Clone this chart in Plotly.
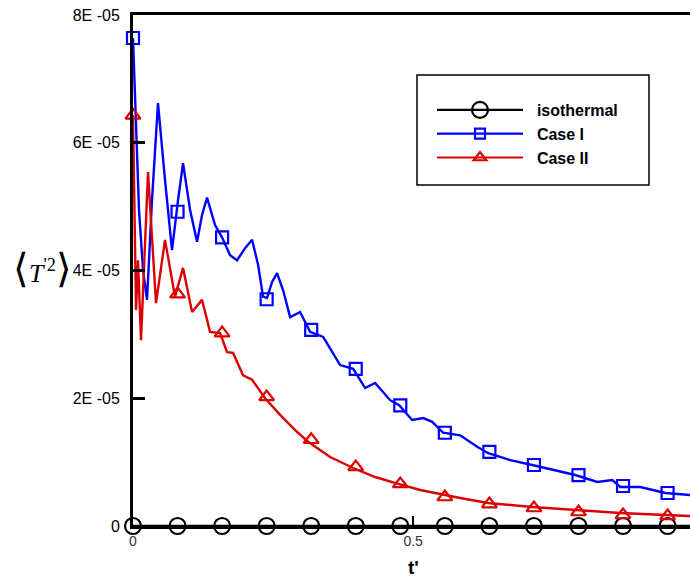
import plotly.graph_objects as go

# ---------------- data ----------------
# Case I (blue) curve
case1_t = [0, 0.0054, 0.0107, 0.0179, 0.025, 0.0339, 0.0446, 0.0571, 0.0696, 0.0804,
           0.0893, 0.1018, 0.1143, 0.1232, 0.1321, 0.1464, 0.1589, 0.1732, 0.1857, 0.2,
           0.2125, 0.2232, 0.2321, 0.2393, 0.2482, 0.2571, 0.2679, 0.2804, 0.2982, 0.3161,
           0.3393, 0.3696, 0.3929, 0.4143, 0.4321, 0.4589, 0.475, 0.4982, 0.5179, 0.5339,
           0.5536, 0.5839, 0.6143, 0.6339, 0.6732, 0.7125, 0.75, 0.7893, 0.8286, 0.8554,
           0.8696, 0.9054, 0.95, 0.9946, 1.0]
case1_v = [7.64, 6.36, 4.95, 4.01, 3.54, 5.10, 6.62, 5.42, 4.32, 5.10,
           5.68, 4.95, 4.45, 4.87, 5.14, 4.71, 4.52, 4.24, 4.16, 4.35,
           4.48, 4.09, 3.59, 3.57, 3.82, 3.96, 3.69, 3.27, 3.35, 3.04,
           2.96, 2.52, 2.46, 2.16, 2.24, 1.97, 1.89, 1.66, 1.69, 1.63,
           1.46, 1.42, 1.24, 1.14, 1.03, 0.955, 0.877, 0.798, 0.689, 0.720,
           0.611, 0.611, 0.517, 0.485, 0.48]

# Case II (red) curve
case2_t = [0, 0.0054, 0.0089, 0.0143, 0.0268, 0.0339, 0.0411, 0.0571, 0.075, 0.0893,
           0.1054, 0.1232, 0.1375, 0.1554, 0.1679, 0.1786, 0.1964, 0.2125, 0.2357, 0.2625,
           0.2893, 0.3125, 0.3518, 0.3929, 0.4321, 0.4732, 0.5125, 0.5839, 0.6339, 0.7125,
           0.7929, 0.8696, 0.95, 0.9946, 1.0]
case2_v = [6.43, 3.38, 4.16, 2.91, 5.54, 4.48, 3.49, 4.48, 3.59, 4.04,
           3.35, 3.54, 3.04, 3.02, 2.72, 2.71, 2.36, 2.29, 2.00, 1.74,
           1.50, 1.32, 1.08, 0.908, 0.767, 0.658, 0.564, 0.438, 0.360, 0.297,
           0.250, 0.204, 0.172, 0.157, 0.155]

# isothermal curve
iso_t = [0, 1.0]
iso_v = [0, 0]

# marker positions and values
mark_t = [0, 0.0795, 0.159, 0.2385, 0.318, 0.3975, 0.477, 0.5565, 0.636, 0.7155, 0.795, 0.8745, 0.954]
iso_mark_v = [0, 0, 0, 0, 0, 0, 0, 0, 0, 0, 0, 0, 0]
case1_mark_v = [7.64, 4.92, 4.52, 3.55, 3.07, 2.46, 1.89, 1.46, 1.16, 0.955, 0.798, 0.626, 0.517]
case2_mark_v = [6.43, 3.63, 3.02, 2.02, 1.35, 0.924, 0.658, 0.454, 0.344, 0.282, 0.219, 0.172, 0.157]

scale = 1e-5
y_tickvals = [0, 2e-5, 4e-5, 6e-5, 8e-5]
y_ticktext = ["0", "2E -05", "4E -05", "6E -05", "8E -05"]
x_tickvals = [0, 0.5]
x_ticktext = ["0", "0.5"]

names = ["isothermal", "Case I", "Case II"]
colors = ["black", "rgb(0,0,255)", "rgb(220,0,0)"]
symbols = ["circle-open", "square-open", "triangle-up-open"]
msizes = [16, 12, 13]
legend_msizes = [16, 10, 11]

# ---------------- figure ----------------
fig = go.Figure()
series = [(iso_t, iso_v, iso_mark_v), (case1_t, case1_v, case1_mark_v), (case2_t, case2_v, case2_mark_v)]
for (t, v, mv), name, c, s, ms in zip(series, names, colors, symbols, msizes):
    fig.add_trace(go.Scatter(x=t, y=[a * scale for a in v], mode="lines",
                             line=dict(color=c, width=2.4), showlegend=False, hoverinfo="skip"))
    fig.add_trace(go.Scatter(x=mark_t, y=[a * scale for a in mv], mode="markers",
                             marker=dict(symbol=s, size=ms, color=c, line=dict(color=c, width=2.2)),
                             showlegend=False, cliponaxis=False, hoverinfo="skip"))
for name, c, s, ms in zip(names, colors, symbols, legend_msizes):
    fig.add_trace(go.Scatter(x=[None], y=[None], mode="lines+markers", name="\u00a0\u00a0" + name,
                             line=dict(color=c, width=2.2),
                             marker=dict(symbol=s, size=ms, color=c, line=dict(color=c, width=2.2))))

L, T, B = 133, 15, 54
W, H = 690, 580
pw, ph = W - L, H - T - B

def px_x(p):
    return (p - L) / pw

def px_y(p):
    return (H - B - p) / ph

fig.add_shape(type="rect", xref="paper", yref="paper",
              x0=px_x(417), x1=px_x(649), y0=px_y(185), y1=px_y(75),
              line=dict(color="black", width=1.5), fillcolor="white", layer="below")

fig.add_annotation(xref="paper", yref="paper", x=px_x(42), y=px_y(268),
                   text=("<span style='font-size:40px'>⟨</span>"
                         "<i>T</i><sup>'2</sup>"
                         "<span style='font-size:40px'>⟩</span>"),
                   showarrow=False,
                   font=dict(family="Liberation Serif", size=26, color="black"),
                   xanchor="center", yanchor="middle")
fig.add_annotation(xref="x", yref="paper", x=0.5, y=px_y(567),
                   text="<b>t'</b>", showarrow=False,
                   font=dict(family="Liberation Sans", size=19, color="black"),
                   xanchor="center", yanchor="middle")

fig.update_layout(
    width=W, height=H,
    margin=dict(l=L, r=0, t=T, b=B, pad=0),
    paper_bgcolor="white", plot_bgcolor="white",
    font=dict(family="Liberation Sans", size=14, color="black"),
    showlegend=True,
    legend=dict(x=px_x(432), y=px_y(93), xanchor="left", yanchor="top",
                bgcolor="rgba(0,0,0,0)", borderwidth=0,
                font=dict(family="Liberation Sans", size=16, color="black", weight="bold"),
                itemwidth=86, tracegroupgap=0),
    xaxis=dict(range=[0, 0.994], showgrid=False, zeroline=False,
               showline=True, linecolor="black", linewidth=2.5, mirror=True,
               ticks="inside", ticklen=10, tickwidth=2, tickcolor="black",
               tickvals=x_tickvals, ticktext=x_ticktext,
               tickfont=dict(size=14, color="#333")),
    yaxis=dict(range=[0, 8e-5], showgrid=False, zeroline=False,
               showline=True, linecolor="black", linewidth=3,
               ticks="inside", ticklen=12, tickwidth=2.5, tickcolor="black",
               tickvals=y_tickvals, ticktext=y_ticktext,
               tickfont=dict(family="Liberation Sans", size=16, color="black"),
               ticklabelstandoff=7),
)

fig.write_html("out.html")
